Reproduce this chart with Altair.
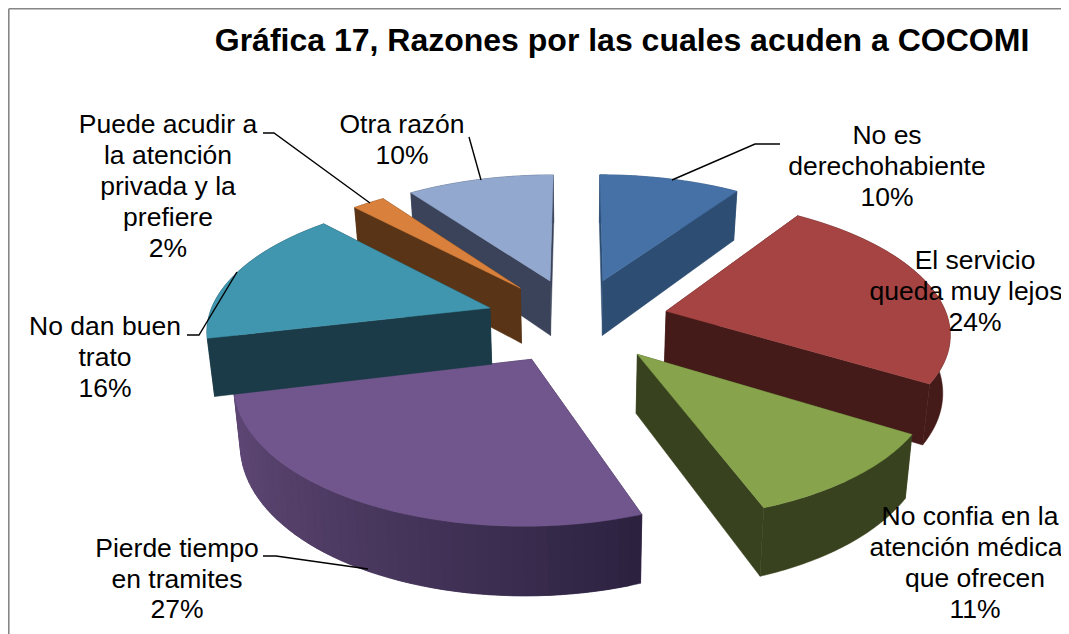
import math
import altair as alt
import pandas as pd

# ---- data ----
NAMES = ["No es derechohabiente", "El servicio queda muy lejos", "No confia en la atención médica que ofrecen",
         "Pierde tiempo en tramites", "No dan buen trato", "Puede acudir a la atención privada y la prefiere", "Otra razón"]
SHARES = [9.5, 24.3, 10.6, 26.9, 16.6, 2.2, 9.9]   # unrounded shares
TOP_COLORS = ["#4571A6", "#A54442", "#87A44C", "#70568C", "#4096AF", "#D9813C", "#92A8CF"]
WALL_COLORS = ["#2D4D72", "#451B19", "#38421E", "#5E4774", "#1A3B47", "#5A3416", "#3A4359"]
PAINT_ORDER = [0, 6, 5, 3, 4, 1, 2]

LABEL_LINES = [
    ("No es", 887, 135), ("derechohabiente", 887, 166), ("10%", 887, 197),
    ("El servicio", 975, 260), ("queda muy lejos", 966, 291), ("24%", 975, 322),
    ("No confia en la", 970, 516), ("atención médica", 966, 547), ("que ofrecen", 975, 578), ("11%", 975, 609),
    ("Pierde tiempo", 177, 548), ("en tramites", 177, 579), ("27%", 177, 609),
    ("No dan buen", 105, 326), ("trato", 105, 357), ("16%", 105, 388),
    ("Puede acudir a", 168, 124), ("la atención", 168, 155), ("privada y la", 168, 186), ("prefiere", 168, 217), ("2%", 168, 248),
    ("Otra razón", 402, 124), ("10%", 402, 155),
]
LEADERS = [
    [(672, 180), (755, 144), (780, 144)],
    [(370, 203), (274, 133), (263, 133)],
    [(481, 180), (469, 137)],
    [(237, 272), (199, 335), (187, 335)],
    [(368, 569), (276, 556), (263, 556)],
]
TITLE = "Gráfica 17, Razones por las cuales acuden a COCOMI"

W, H = 1053, 626
CX, CY, R, E, P, Q, DEPTH, SHRINK = 577, 320, 282, 92, 0.0005, 0.465, 57, 0.98


def proj(X, Y, bottom=False):
    s = 1 / (1 - P * Y)
    x = CX + X * s
    y = CY + Q * Y * s
    if bottom:
        x = CX + (x - CX) * SHRINK
        y = y + DEPTH * s
    return (x, y)


polys = []


def add(pts, color):
    pid = len(polys)
    polys.append((pid, pts, color))


def mix(c1, c2, t):
    a = [int(c1[i:i + 2], 16) for i in (1, 3, 5)]
    b = [int(c2[i:i + 2], 16) for i in (1, 3, 5)]
    return "#%02X%02X%02X" % tuple(round(a[i] + (b[i] - a[i]) * t) for i in range(3))


starts = []
acc = 0.0
for v in SHARES:
    starts.append(acc)
    acc += v

for i in PAINT_ORDER:
    a0 = math.radians(starts[i] * 3.6)
    a1 = math.radians((starts[i] + SHARES[i]) * 3.6)
    mid = (a0 + a1) / 2
    ax, ay = E * math.sin(mid), -E * math.cos(mid)
    n = 48
    rim = []
    for k in range(n + 1):
        t = a0 + (a1 - a0) * k / n
        rim.append((ax + R * math.sin(t), ay - R * math.cos(t)))
    wall = WALL_COLORS[i]
    # cut faces
    for p in (rim[0], rim[-1]):
        add([proj(ax, ay), proj(*p), proj(*p, True), proj(ax, ay, True)], wall if i != 3 else "#2C2240")
    # rim wall
    if i == 3:
        for k in range(n):
            t = k / (n - 1)
            col = mix("#5E4774", "#2C2240", (1 - t) ** 1.3)
            seg = rim[k:k + 3]
            add([proj(*p) for p in seg] + [proj(*p, True) for p in reversed(seg)], col)
    else:
        add([proj(*p) for p in rim] + [proj(*p, True) for p in reversed(rim)], wall)
    add([proj(ax, ay)] + [proj(*p) for p in rim], TOP_COLORS[i])

rows = []
for pid, pts, col in polys:
    for j, (x, y) in enumerate(pts + [pts[0]]):
        rows.append({"x": round(x, 2), "y": round(y, 2), "poly": pid, "pt": j, "col": col})
df = pd.DataFrame(rows)

xs = alt.Scale(domain=[8, 8 + W], range=[0, W])
ys = alt.Scale(domain=[8, 8 + H], range=[0, H])
X = alt.X("x:Q", scale=xs, axis=None)
Y = alt.Y("y:Q", scale=ys, axis=None)

slices = alt.Chart(df).mark_line(strokeWidth=0.5, clip=True).encode(
    x=X, y=Y, detail="poly:N", order="pt:Q",
    fill=alt.Fill("col:N", scale=None, legend=None),
    stroke=alt.Stroke("col:N", scale=None, legend=None),
)

lead_rows = []
for lid, pts in enumerate(LEADERS):
    for j, (x, y) in enumerate(pts):
        lead_rows.append({"x": x, "y": y, "lid": lid, "pt": j})
leaders = alt.Chart(pd.DataFrame(lead_rows)).mark_line(color="#000000", strokeWidth=1.4).encode(
    x=X, y=Y, detail="lid:N", order="pt:Q")

labels = alt.Chart(pd.DataFrame(LABEL_LINES, columns=["t", "x", "y"])).mark_text(
    font="Liberation Sans", fontSize=26.5, color="#000000", align="center", baseline="middle", dy=0.7
).encode(x=X, y=Y, text="t:N")

title = alt.Chart(pd.DataFrame([{"t": TITLE, "x": 622, "y": 40}])).mark_text(
    font="Liberation Sans", fontSize=32, fontWeight="bold", color="#000000", align="center", baseline="middle", dy=0.5
).encode(x=X, y=Y, text="t:N")

frame = alt.Chart(pd.DataFrame([
    {"x": 8.8, "y": 8.8, "lid": 0, "pt": 0}, {"x": 8.8, "y": 634, "lid": 0, "pt": 1},
    {"x": 8.8, "y": 8.8, "lid": 1, "pt": 0}, {"x": 1061, "y": 8.8, "lid": 1, "pt": 1},
])).mark_line(color="#868686", strokeWidth=1.6).encode(x=X, y=Y, detail="lid:N", order="pt:Q")

chart = alt.layer(frame, slices, leaders, labels, title).properties(
    width=W, height=H, padding=0, autosize=alt.AutoSizeParams(type="none"), background="#FFFFFF"
).configure_view(stroke=None)

chart.save("out.html", embed_options={"renderer": "svg", "actions": False})
